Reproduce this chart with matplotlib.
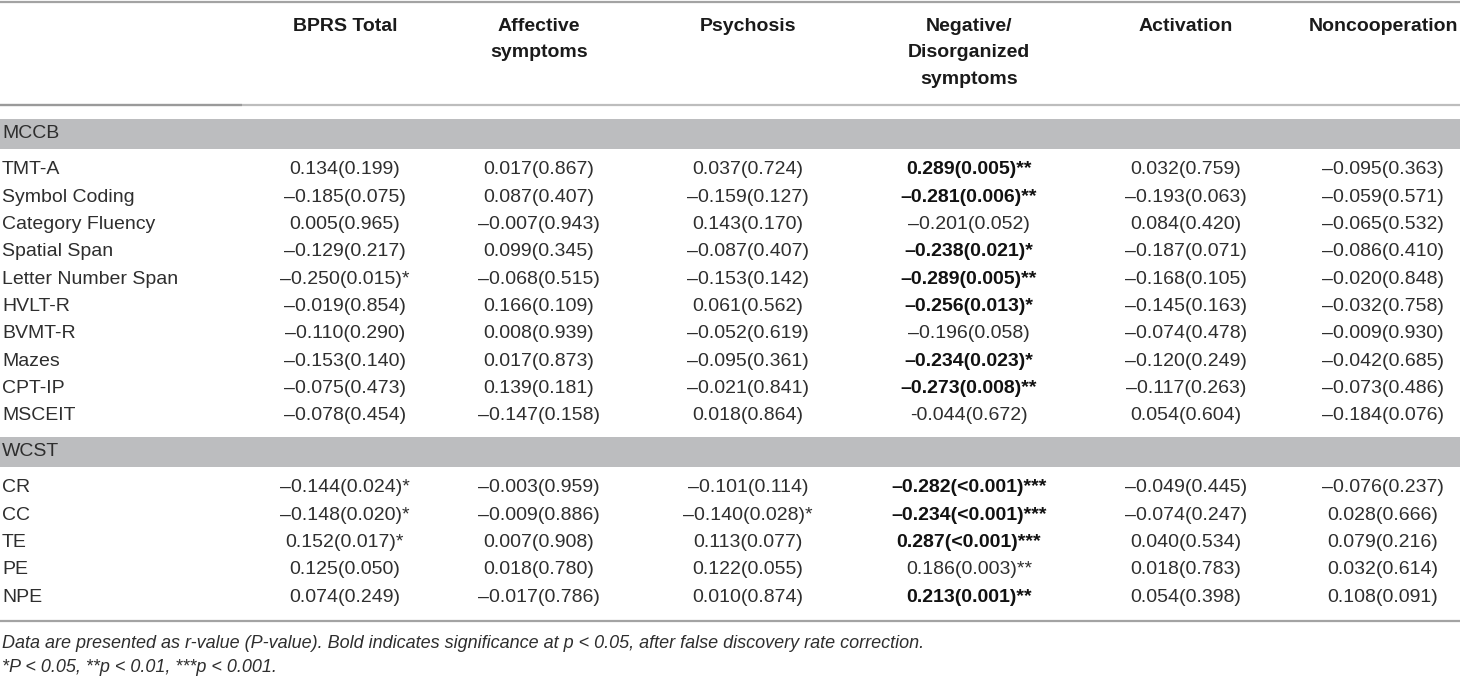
import matplotlib
matplotlib.use("Agg")
import matplotlib.pyplot as plt
from matplotlib.patches import Rectangle

plt.rcParams['font.family'] = ['Liberation Sans', 'DejaVu Sans']

# ---- table content ----
columns = ["BPRS Total", "Affective\nsymptoms", "Psychosis",
           "Negative/\nDisorganized\nsymptoms", "Activation", "Noncooperation"]

mccb_rows = ["TMT-A", "Symbol Coding", "Category Fluency", "Spatial Span",
             "Letter Number Span", "HVLT-R", "BVMT-R", "Mazes", "CPT-IP", "MSCEIT"]
mccb_cells = [
    ["0.134(0.199)", "0.017(0.867)", "0.037(0.724)", "0.289(0.005)**", "0.032(0.759)", "–0.095(0.363)"],
    ["–0.185(0.075)", "0.087(0.407)", "–0.159(0.127)", "–0.281(0.006)**", "–0.193(0.063)", "–0.059(0.571)"],
    ["0.005(0.965)", "–0.007(0.943)", "0.143(0.170)", "–0.201(0.052)", "0.084(0.420)", "–0.065(0.532)"],
    ["–0.129(0.217)", "0.099(0.345)", "–0.087(0.407)", "–0.238(0.021)*", "–0.187(0.071)", "–0.086(0.410)"],
    ["–0.250(0.015)*", "–0.068(0.515)", "–0.153(0.142)", "–0.289(0.005)**", "–0.168(0.105)", "–0.020(0.848)"],
    ["–0.019(0.854)", "0.166(0.109)", "0.061(0.562)", "–0.256(0.013)*", "–0.145(0.163)", "–0.032(0.758)"],
    ["–0.110(0.290)", "0.008(0.939)", "–0.052(0.619)", "–0.196(0.058)", "–0.074(0.478)", "–0.009(0.930)"],
    ["–0.153(0.140)", "0.017(0.873)", "–0.095(0.361)", "–0.234(0.023)*", "–0.120(0.249)", "–0.042(0.685)"],
    ["–0.075(0.473)", "0.139(0.181)", "–0.021(0.841)", "–0.273(0.008)**", "–0.117(0.263)", "–0.073(0.486)"],
    ["–0.078(0.454)", "–0.147(0.158)", "0.018(0.864)", "-0.044(0.672)", "0.054(0.604)", "–0.184(0.076)"],
]
mccb_bold = [True, True, False, True, True, True, False, True, True, False]

wcst_rows = ["CR", "CC", "TE", "PE", "NPE"]
wcst_cells = [
    ["–0.144(0.024)*", "–0.003(0.959)", "–0.101(0.114)", "–0.282(<0.001)***", "–0.049(0.445)", "–0.076(0.237)"],
    ["–0.148(0.020)*", "–0.009(0.886)", "–0.140(0.028)*", "–0.234(<0.001)***", "–0.074(0.247)", "0.028(0.666)"],
    ["0.152(0.017)*", "0.007(0.908)", "0.113(0.077)", "0.287(<0.001)***", "0.040(0.534)", "0.079(0.216)"],
    ["0.125(0.050)", "0.018(0.780)", "0.122(0.055)", "0.186(0.003)**", "0.018(0.783)", "0.032(0.614)"],
    ["0.074(0.249)", "–0.017(0.786)", "0.010(0.874)", "0.213(0.001)**", "0.054(0.398)", "0.108(0.091)"],
]
wcst_bold = [True, True, True, False, True]
bold_col = 3

footnotes = ["Data are presented as r-value (P-value). Bold indicates significance at p < 0.05, "
             "after false discovery rate correction.",
             "*P < 0.05, **p < 0.01, ***p < 0.001."]

# ---- layout (pixel units) ----
W, H = 1460, 677
col_x = [345, 539, 748, 969, 1186, 1383]
row_h = 27.3
band_color = "#bcbdbf"
txt_color = "#2e2e2e"
fs = 14

fig = plt.figure(figsize=(W / 100, H / 100), dpi=100)
ax = fig.add_axes([0, 0, 1, 1])
ax.set_xlim(0, W)
ax.set_ylim(H, 0)
ax.axis("off")

# rules
ax.plot([0, W], [2, 2], color="#a3a3a3", lw=1.6, solid_capstyle="butt")
ax.plot([0, W], [105, 105], color="#bdbdbd", lw=1.6, solid_capstyle="butt")
ax.plot([0, 242], [105, 105], color="#9a9a9a", lw=1.6, solid_capstyle="butt")

# header
for x, c in zip(col_x, columns):
    ax.text(x, 18, c, ha="center", va="top", fontsize=fs, fontweight="bold",
            color="#1a1a1a", linespacing=1.72)


def draw_group(name, rows, cells, bold, band_top):
    ax.add_patch(Rectangle((0, band_top), W, 29.5, color=band_color, lw=0))
    ax.text(2, band_top + 15, name, ha="left", va="center", fontsize=fs, color=txt_color)
    y = band_top + 51
    for lab, vals, b in zip(rows, cells, bold):
        ax.text(2, y, lab, ha="left", va="center", fontsize=fs, color=txt_color)
        for j, (x, v) in enumerate(zip(col_x, vals)):
            is_b = b and j == bold_col
            ax.text(x, y, v, ha="center", va="center", fontsize=fs,
                    fontweight="bold" if is_b else "normal",
                    color="#111111" if is_b else txt_color)
        y += row_h
    return y


draw_group("MCCB", mccb_rows, mccb_cells, mccb_bold, 119)
draw_group("WCST", wcst_rows, wcst_cells, wcst_bold, 437)

ax.plot([0, W], [621, 621], color="#a3a3a3", lw=1.6, solid_capstyle="butt")

ax.text(2, 643, footnotes[0], ha="left", va="center", fontsize=13, style="italic", color=txt_color)
ax.text(2, 667, footnotes[1], ha="left", va="center", fontsize=13, style="italic", color=txt_color)

fig.savefig("out.png", dpi=100)
